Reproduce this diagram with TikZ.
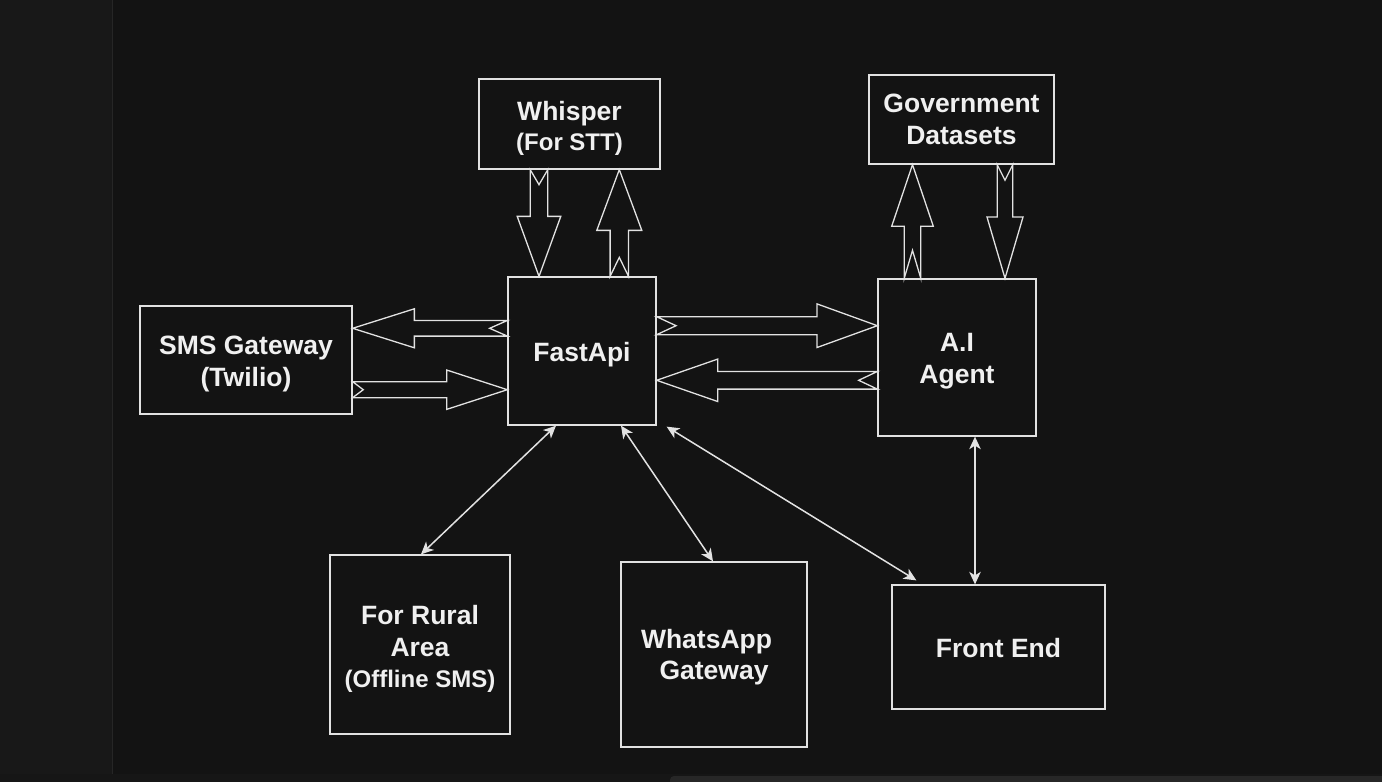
\documentclass[tikz,border=0pt]{standalone}
\usepackage{fontspec}
\setmainfont{Liberation Sans}
\usetikzlibrary{arrows.meta,calc}
\definecolor{bgmain}{HTML}{131313}
\definecolor{bgleft}{HTML}{181818}
\definecolor{sepline}{HTML}{262626}
\definecolor{bgbottom}{HTML}{161616}
\definecolor{barcol}{HTML}{272727}
\definecolor{linecol}{HTML}{E2E2E2}
\definecolor{textcol}{HTML}{F0F0F0}
\tikzset{
  box/.style={draw=linecol, line width=1.3pt, fill=bgmain, inner sep=0pt},
  txt/.style={inner sep=0pt, text=textcol, align=center,
    font=\fontsize{26.5}{32}\selectfont\bfseries},
  blockarrow/.style={draw=linecol, line width=1.3pt, line join=miter},
  thinarrow/.style={draw=linecol, line width=1.5pt,
    {Stealth[length=12.5pt,width=11.5pt,inset=3.5pt]}-{Stealth[length=12.5pt,width=11.5pt,inset=3.5pt]}},
}
\newcommand\smalltxt[1]{{\fontsize{24}{30}\selectfont #1}}
% #1 from, #2 to, #3 shaft half width, #4 head half width, #5 head length, #6 notch depth
\newcommand\flexarrow[6]{%
  \draw[blockarrow] let \p1=(#1), \p2=(#2),
    \n1={veclen(\x2-\x1,\y2-\y1)}, \n2={(\x2-\x1)/\n1}, \n3={(\y2-\y1)/\n1} in
    ({\x1-(#3)*\n3},{\y1+(#3)*\n2})
    -- ({\x1+(\n1-#5)*\n2-(#3)*\n3},{\y1+(\n1-#5)*\n3+(#3)*\n2})
    -- ({\x1+(\n1-#5)*\n2-(#4)*\n3},{\y1+(\n1-#5)*\n3+(#4)*\n2})
    -- (\p2)
    -- ({\x1+(\n1-#5)*\n2+(#4)*\n3},{\y1+(\n1-#5)*\n3-(#4)*\n2})
    -- ({\x1+(\n1-#5)*\n2+(#3)*\n3},{\y1+(\n1-#5)*\n3-(#3)*\n2})
    -- ({\x1+(#3)*\n3},{\y1-(#3)*\n2})
    -- ({\x1+(#6)*\n2},{\y1+(#6)*\n3})
    -- cycle;}
\begin{document}
\begin{tikzpicture}[x=1pt,y=-1pt]
% background
\fill[bgmain] (0,0) rectangle (1382,782);
\useasboundingbox (0,0) rectangle (1382,782);
\fill[bgleft] (0,0) rectangle (112,774);
\fill[bgbottom] (0,774) rectangle (1382,782);
\draw[sepline, line width=1.5pt] (112.5,0) -- (112.5,774);
\fill[barcol, rounded corners=4pt] (670,776) rectangle (1392,792);

% boxes
\node[box, minimum width=181pt, minimum height=90pt] (wh) at (569.5,124) {};
\node[box, minimum width=185pt, minimum height=89pt] (gov) at (961.5,119.5) {};
\node[box, minimum width=212pt, minimum height=108pt] (sms) at (246,360) {};
\node[box, minimum width=148pt, minimum height=148pt] (fa) at (582,351) {};
\node[box, minimum width=158pt, minimum height=157pt] (ai) at (957,357.5) {};
\node[box, minimum width=180pt, minimum height=179pt] (rural) at (420,644.5) {};
\node[box, minimum width=186pt, minimum height=185pt] (wa) at (714,654.5) {};
\node[box, minimum width=213pt, minimum height=124pt] (fe) at (998.5,647) {};

% texts
\node[txt] (wh-t) at ($(wh.center)+(0,4)$) {Whisper\\[-2pt]\smalltxt{(For STT)}};
\node[txt] (gov-t) at (gov.center) {Government\\Datasets};
\node[txt] (sms-t) at ($(sms.center)+(0,4)$) {SMS Gateway\\(Twilio)};
\node[txt] (fa-t) at ($(fa.center)+(0,4)$) {FastApi};
\node[txt] (ai-t) at ($(ai.center)+(0,4)$) {A.I\\Agent};
\node[txt] (rural-t) at ($(rural.center)+(0,4)$) {For Rural\\Area\\[-1pt]\smalltxt{(Offline SMS)}};
\node[txt] (wa-t) at ($(wa.center)+(0,3)$) {WhatsApp\hspace*{15pt}\\[-1pt]Gateway};
\node[txt] (fe-t) at ($(fe.center)+(0,1)$) {Front End};

% block arrows
\flexarrow{wh.south -| 539,0}{fa.north -| 539,0}{8.8}{21.8}{60}{15}
\flexarrow{fa.north -| 619.3,0}{wh.south -| 619.3,0}{9.2}{22.5}{60.7}{19}
\flexarrow{fa.west |- 0,328.3}{sms.east |- 0,328.3}{7.8}{19.5}{61.7}{17.7}
\flexarrow{sms.east |- 0,389.7}{fa.west |- 0,389.7}{8}{19.7}{60.7}{10.6}
\flexarrow{fa.east |- 0,325.7}{ai.west |- 0,325.7}{9}{21.8}{60.3}{19.4}
\flexarrow{ai.west |- 0,380.3}{fa.east |- 0,380.3}{8.8}{21.2}{61}{18.7}
\flexarrow{ai.north -| 912.5,0}{gov.south -| 912.5,0}{8.3}{20.8}{61.6}{28}
\flexarrow{gov.south -| 1005,0}{ai.north -| 1005,0}{7.8}{18}{61.3}{15.6}

% thin double arrows
\draw[thinarrow] (fa.south -| 556,0) -- (rural.north -| 421,0);
\draw[thinarrow] (fa.south -| 621,0) -- (wa.north -| 713,0);
\draw[thinarrow] ($(fa.south east)+(10,1)$) -- ($(fe.north west)+(25,-4)$);
\draw[thinarrow] (ai.south -| 975,0) -- (fe.north -| 975,0);
\end{tikzpicture}
\end{document}
